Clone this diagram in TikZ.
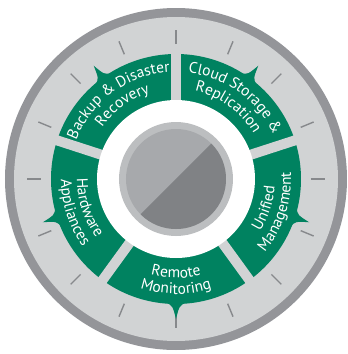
\documentclass[tikz,border=0pt]{standalone}
\usepackage{fontspec}
\usetikzlibrary{decorations.text}

\newfontfamily\segfamily{PT Sans}
\newcommand\segfont{\segfamily\fontsize{15.5}{18}\selectfont}

\definecolor{seggreen}{RGB}{0,130,96}
\definecolor{ringdark}{RGB}{148,149,153}
\definecolor{ringlight}{RGB}{209,211,212}
\definecolor{hubring}{RGB}{188,190,192}
\definecolor{hublight}{RGB}{167,169,172}
\definecolor{hubdark}{RGB}{128,130,133}
\definecolor{tickgray}{RGB}{135,137,140}

\tikzset{
	segtext/.style = {decorate, decoration = {text along path, text align = center, text color = white, text = {|\segfont|#1}}},
}

\begin{document}
\begin{tikzpicture}[x = 1pt, y = 1pt]
	\useasboundingbox (-176, -175) rectangle (172, 179);
	\fill[ringdark] (0, 0) circle[radius = 171pt];
	\fill[ringlight] (0, 0) circle[radius = 162pt];
	\foreach \a in {0, 22.5, ..., 337.5}
		\draw[tickgray, line width = 1.4pt] (\a:135) -- (\a:149);
	\fill[seggreen] (0, 0) circle[radius = 125pt];
	% arrow barbs on the outer edge
	\foreach \a in {126, 54, -18, -90, 198}
		\fill[seggreen] ({\a + 4.5}:124) .. controls ({\a + 1.5}:127) .. (\a:140) .. controls ({\a - 1.5}:127) .. ({\a - 4.5}:124) -- cycle;
	% gaps between the segments
	\foreach \a in {90, 18, -54, -126, 162}
		\draw[ringlight, line width = 10pt] (\a:78) -- (\a:126);
	\fill[white] (0, 0) circle[radius = 79pt];
	\fill[hubring] (0, 0) circle[radius = 57pt];
	\fill[hublight] (0, 0) circle[radius = 50pt];
	\fill[hubdark] (45:50) arc[start angle = 45, end angle = -135, radius = 50pt] -- cycle;
	% labels
	\path[segtext = {Backup {\&} Disaster}] (186:107) arc[start angle = 186, end angle = 66, radius = 107pt];
	\path[segtext = {Recovery}] (186:90) arc[start angle = 186, end angle = 66, radius = 90pt];
	\path[segtext = {Cloud Storage {\&}}] (114:107) arc[start angle = 114, end angle = -6, radius = 107pt];
	\path[segtext = {Replication}] (114:90) arc[start angle = 114, end angle = -6, radius = 90pt];
	\path[segtext = {Unified}] (-78:99) arc[start angle = -78, end angle = 42, radius = 99pt];
	\path[segtext = {Management}] (-78:115) arc[start angle = -78, end angle = 42, radius = 115pt];
	\path[segtext = {Remote}] (-150:99) arc[start angle = -150, end angle = -30, radius = 99pt];
	\path[segtext = {Monitoring}] (-150:115) arc[start angle = -150, end angle = -30, radius = 115pt];
	\path[segtext = {Hardware}] (138:99) arc[start angle = 138, end angle = 258, radius = 99pt];
	\path[segtext = {Appliances}] (138:115) arc[start angle = 138, end angle = 258, radius = 115pt];
\end{tikzpicture}
\end{document}
